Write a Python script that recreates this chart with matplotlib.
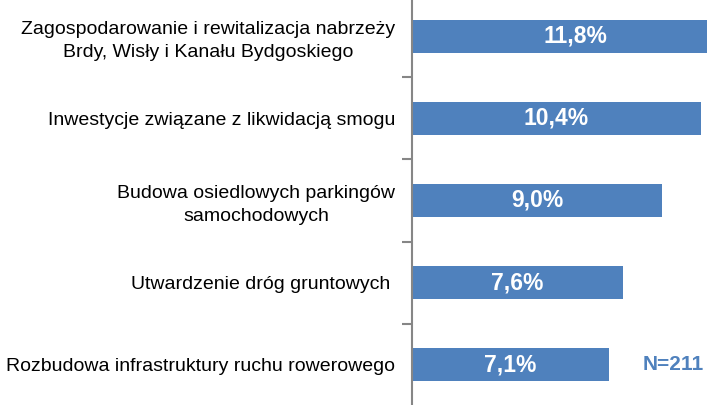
import matplotlib.pyplot as plt
import numpy as np

plt.rcParams['font.family'] = ['Liberation Sans', 'DejaVu Sans']

# Data
categories = ['Zagospodarowanie i rewitalizacja nabrzeży\nBrdy, Wisły i Kanału Bydgoskiego',
              'Inwestycje związane z likwidacją smogu',
              'Budowa osiedlowych parkingów\nsamochodowych',
              'Utwardzenie dróg gruntowych ',
              'Rozbudowa infrastruktury ruchu rowerowego']
values = [11.8, 10.4, 9.0, 7.6, 7.1]
value_labels = ['11,8%', '10,4%', '9,0%', '7,6%', '7,1%']
note = 'N=211'

bar_color = '#4F81BD'

fig = plt.figure(figsize=(7.07, 4.05), dpi=100)
ax = fig.add_axes([412 / 707, 0, 1 - 412 / 707, 1])

ind = np.arange(len(values))
ax.barh(ind, values, height=0.4, color=bar_color)

for i, (v, lab) in enumerate(zip(values, value_labels)):
    ax.text(v / 2, i, lab, ha='center', va='center', color='white',
            fontsize=16.5, fontweight='bold')

ax.set_xlim(0, 10.63)
ax.set_ylim(4.49, -0.44)

ax.set_yticks(ind)
ax.set_yticklabels(categories, fontsize=14, multialignment='center', linespacing=1.45)
ax.tick_params(axis='y', which='major', length=0, pad=12)
ax.set_yticks(ind[:-1] + 0.5, minor=True)
ax.tick_params(axis='y', which='minor', length=7, width=1.5, color='#868686')
ax.set_xticks([])

for s in ['top', 'right', 'bottom']:
    ax.spines[s].set_visible(False)
ax.spines['left'].set_color('#868686')
ax.spines['left'].set_linewidth(1.5)

ax.text(0.885, 4.0, note, transform=ax.get_yaxis_transform(),
        ha='center', va='center', color=bar_color, fontsize=15, fontweight='bold')

fig.savefig('out.png', dpi=100)
